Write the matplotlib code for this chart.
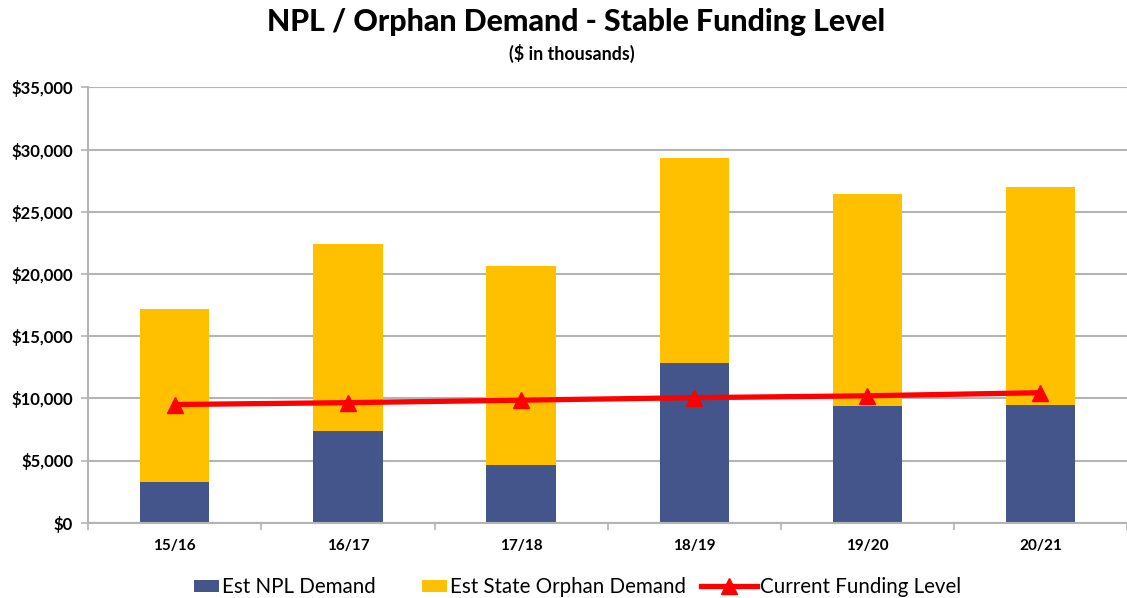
import matplotlib
matplotlib.use('Agg')
import matplotlib.pyplot as plt
from matplotlib.ticker import FuncFormatter
from matplotlib.patches import Rectangle
from matplotlib.legend_handler import HandlerPatch
import numpy as np

# ------------------- DATA ----------------
years = ['15/16', '16/17', '17/18', '18/19', '19/20', '20/21']
npl_demand = [3250, 7400, 4600, 12800, 9400, 9450]
orphan_total = [17200, 22400, 20600, 29300, 26400, 27000]
orphan_demand = [t - n for t, n in zip(orphan_total, npl_demand)]
funding_level = [9500, 9650, 9850, 10050, 10200, 10450]

# ------------------- STYLE ----------------
BLUE, YELLOW, RED = '#44558B', '#FFC000', '#FF0000'
GRID = '#B4B4B4'
plt.rcParams['font.family'] = ['Lato', 'DejaVu Sans']

W, H = 1127, 598
fig = plt.figure(figsize=(W/100, H/100), dpi=100)
left, bottom, top = 88.3, 522.7, 87.3
ax = fig.add_axes([left/W, (H-bottom)/H, (W-left)/W, (bottom-top)/H])

x = np.arange(len(years))
b1 = ax.bar(x, npl_demand, width=0.4, color=BLUE, label='Est NPL Demand', zorder=2)
b2 = ax.bar(x, orphan_demand, width=0.4, bottom=npl_demand, color=YELLOW,
            label='Est State Orphan Demand', zorder=2)
ln, = ax.plot(x, funding_level, color=RED, lw=3.8, marker='^', markersize=12,
              label='Current Funding Level', zorder=3)

# category step in the reference is ~174.2 px
ax.set_xlim(-0.5, -0.5 + (W - left) / 174.2)
ax.set_ylim(0, 35000)
ax.set_yticks(np.arange(0, 35001, 5000))
ax.yaxis.set_major_formatter(FuncFormatter(lambda v, p: '${:,.0f}'.format(v)))
ax.set_xticks(x)
ax.set_xticklabels(years)
ax.set_xticks(np.arange(-0.5, len(years), 1), minor=True)
ax.tick_params(axis='x', which='major', length=0, pad=12, labelsize=11)
ax.tick_params(axis='x', which='minor', length=5, color=GRID, width=1.2)
ax.tick_params(axis='y', length=5, color=GRID, width=1.2, pad=6, labelsize=12)
for lbl in ax.get_xticklabels() + ax.get_yticklabels():
    lbl.set_fontweight('bold')

ax.grid(axis='y', color=GRID, lw=1.5, zorder=0)
ax.set_axisbelow(True)
for s in ['top', 'right']:
    ax.spines[s].set_visible(False)
ax.spines['left'].set_color(GRID)
ax.spines['bottom'].set_color(GRID)
ax.spines['left'].set_linewidth(1.5)
ax.spines['bottom'].set_linewidth(1.5)

fig.text(576/W, 1 - 22/H, 'NPL / Orphan Demand - Stable Funding Level',
         ha='center', va='center', fontsize=21.8, fontweight='black')
fig.text(572/W, 1 - 53/H, '($ in thousands)', ha='center', va='center',
         fontsize=12.8, fontweight='bold')


def small_patch(legend, orig_handle, xdescent, ydescent, width, height, fontsize):
    w = width * 0.45
    return Rectangle((width - w - xdescent, -ydescent + height * 0.05), w, height * 0.85)


fig.legend([b1[0], b2[0], ln],
           ['Est NPL Demand', 'Est State Orphan Demand', 'Current Funding Level'],
           loc='center', bbox_to_anchor=(562/W, 1 - 587/H), ncol=3,
           frameon=False, fontsize=14.8, handlelength=2.7, handletextpad=0.15,
           columnspacing=0.75,
           handler_map={Rectangle: HandlerPatch(patch_func=small_patch)})

fig.savefig('out.png', dpi=100)
